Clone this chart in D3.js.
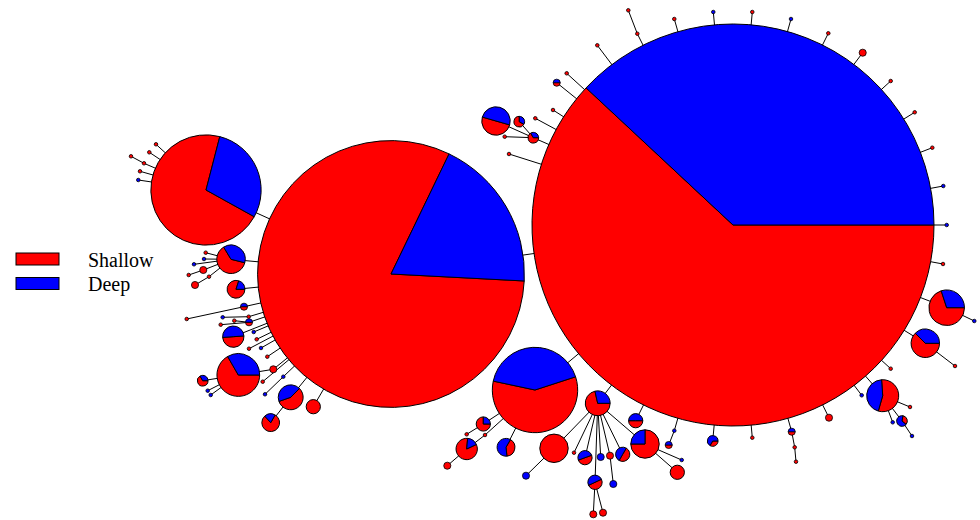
<!DOCTYPE html>
<html>
<head>
<meta charset="utf-8">
<script src="https://cdn.jsdelivr.net/npm/d3@7"></script>
<style>
  body { margin: 0; background: #fff; }
  svg { display: block; }
</style>
</head>
<body>
<div id="chart"></div>
<script>
// haplotype network: layout coordinates (network units), counts per habitat, links

// layout x / y of each haplotype (network units)
var hapX = [
  73.3, 39.1, 20.6, 53.5, 59.77,                                   // 0-4
  50.9, 53.33, 49.6, 51.93, 50.47, 53.53, 55.3, 55.67, 56.67, 59.73, // 5-14
  63.73, 62.83, 67.43, 71.33, 75.23, 79.1, 82.83, 86.27, 89.07, 91.47, // 15-24
  93.23, 94.33, 94.67,                                              // 25-27
  94.3, 94.67, 97.43, 92.53, 95.5, 89.07, 86.17, 88.27, 91.0, 89.27, // 28-37
  90.2, 91.2, 82.9, 79.17, 79.47, 79.6, 75.23, 71.27, 67.43, 66.87,  // 38-47
  63.57,                                                            // 48
  64.5, 68.17, 67.73, 57.4, 58.5, 60.07, 61.0, 61.33, 62.27, 59.5,   // 49-58
  59.33, 60.3, 55.4, 52.6,                                          // 59-62
  48.33, 46.67, 48.5, 46.67, 44.73, 50.6,                           // 63-68
  15.6, 14.93, 14.4, 13.1, 14.0, 13.83,                             // 69-74
  23.1, 20.57, 20.4, 19.4, 20.33, 18.87, 20.9, 19.5,                // 75-82
  23.6, 24.4, 18.67, 24.87, 22.27, 24.9, 23.43, 22.07,              // 83-90
  23.33, 25.37, 25.67, 26.1, 24.9, 26.73, 27.33,                    // 91-97
  23.83, 20.27, 20.77, 21.07, 26.27, 28.33, 26.5, 29.07, 27.07, 31.33 // 98-107
];
var hapY = [
  22.5, 27.4, 19.0, 39.0, 40.33,
  15.4, 13.77, 12.1, 12.17, 13.67, 11.83, 11.0, 8.27, 7.33, 4.53,
  3.37, 1.03, 1.9, 1.2, 1.2, 1.9, 3.33, 5.27, 8.1, 11.23,
  14.77, 18.6, 22.5,
  26.4, 30.77, 32.1, 34.33, 36.6, 36.87, 39.53, 39.57, 40.7, 42.23,
  42.1, 43.6, 41.77, 43.17, 44.73, 46.17, 43.77, 44.1, 43.07, 44.5,
  42.07,
  44.4, 46.0, 47.23, 45.27, 45.77, 45.7, 45.57, 48.4, 45.43, 48.23,
  51.43, 51.27, 44.83, 47.57,
  42.4, 43.43, 43.5, 44.9, 46.57, 44.73,
  14.43, 15.23, 16.33, 15.63, 17.13, 18.0,
  25.93, 25.27, 25.9, 26.43, 27.0, 27.5, 27.67, 28.5,
  28.93, 30.67, 31.9, 31.67, 31.73, 32.23, 32.07, 32.47,
  33.67, 33.2, 33.93, 34.8, 34.87, 35.67, 36.93,
  37.5, 38.07, 39.07, 39.5, 38.17, 37.67, 39.43, 39.73, 42.27, 40.67
];

// individuals per haplotype
var nShallow = [
  70, 61, 22, 14, 5,
  1, 2, 4, 2, 1, 1, 1, 1, 1, 1,
  1, 1, 1, 0, 1, 0, 1, 2, 1, 1,
  1, 0, 0,
  1, 7, 0, 5, 1, 1, 0, 5, 1, 0,
  1, 0, 2, 1, 1, 1, 1, 1, 0, 1,
  2,
  6, 0, 4, 1, 2, 0, 2, 0, 2, 2,
  2, 2, 8, 0,
  3, 1, 1, 5, 2, 2,
  1, 1, 1, 1, 1, 0,
  5, 1, 0, 0, 2, 1, 1, 2,
  4, 1, 1, 1, 0, 1, 1, 1,
  3, 0, 1, 0, 1, 1, 2,
  8, 2, 0, 0, 1, 0, 0, 4, 4, 4
];
var nDeep = [
  43, 14, 9, 10, 2,
  0, 1, 4, 1, 0, 0, 0, 1, 0, 0,
  0, 0, 0, 1, 0, 1, 0, 0, 0, 0,
  0, 1, 1,
  0, 3, 1, 3, 0, 0, 1, 4, 0, 1,
  2, 1, 0, 1, 0, 0, 0, 2, 1, 1,
  2,
  2, 1, 0, 0, 2, 2, 0, 2, 2, 2,
  0, 0, 0, 2,
  1, 0, 0, 1, 0, 3,
  0, 0, 0, 0, 0, 1,
  3, 0, 1, 1, 0, 0, 0, 0,
  1, 1, 0, 0, 1, 1, 0, 0,
  3, 1, 0, 1, 0, 0, 0,
  4, 1, 1, 1, 0, 1, 1, 3, 1, 0
];

// network links: parent haplotype of each one (-1 = root)
var linkParent = [
  -1, 0, 1, 0, 0,
  0, 0, 6, 6, 6, 0, 0, 0, 0, 0,
  0, 15, 0, 0, 0, 0, 0, 0, 0, 0,
  0, 0, 0,
  0, 0, 29, 0, 31, 0, 0, 0, 35, 35,
  35, 38, 0, 0, 41, 42, 0, 0, 0, 46,
  0,
  4, 49, 49, 4, 4, 4, 4, 55, 4, 4,
  58, 58, 4, 61,
  3, 63, 3, 65, 66, 3,
  2, 2, 2, 71, 2, 2,
  1, 75, 75, 75, 75, 79, 75, 81,
  1, 1, 84, 1, 86, 1, 88, 88,
  1, 1, 1, 1, 1, 1, 1,
  97, 98, 98, 98, 1, 1, 103, 1, 105, 1
];

// pie rotation (degrees, clockwise from 3 o'clock) where it is not 0
var turnIds = [1, 2, 3, 7, 8, 35, 38, 49, 53, 57, 58, 66, 68, 75, 91, 105, 106];
var turnDeg = [3, 29, 342, 16, 30, 266, 280, 270, 340, 300, 335, 335, 300, 14, 356, 315, 300];

var groups = ["Shallow", "Deep"];
var groupColors = ["#ff0000", "#0000ff"];

var svgWidth = 980;
var svgHeight = 520;

var svg = d3.select("#chart")
  .append("svg")
  .attr("width", svgWidth)
  .attr("height", svgHeight);

var xScale = d3.scaleLinear().domain([0, 98]).range([0, svgWidth]);
var yScale = d3.scaleLinear().domain([0, 52]).range([0, svgHeight]);
// circle diameter proportional to haplotype frequency
var rScale = d3.scaleLinear().domain([0, 113]).range([0, 201]);
var color = d3.scaleOrdinal().domain(groups).range(groupColors);

var nodes = hapX.map(function(x, i) {
  var k = turnIds.indexOf(i);
  return {
    id: i,
    x: x,
    y: hapY[i],
    counts: [nShallow[i], nDeep[i]],
    total: nShallow[i] + nDeep[i],
    parent: linkParent[i],
    turn: k >= 0 ? turnDeg[k] : 0
  };
});

var links = nodes.filter(d => d.parent >= 0)
  .map(d => ({ source: nodes[d.parent], target: d }));

//links first
svg.append("g")
  .selectAll("line")
  .data(links)
  .enter()
  .append("line")
  .attr("x1", d => xScale(d.source.x))
  .attr("y1", d => yScale(d.source.y))
  .attr("x2", d => xScale(d.target.x))
  .attr("y2", d => yScale(d.target.y))
  .attr("stroke", "black")
  .attr("stroke-width", 1);

//pies, largest first
var order = nodes.slice().sort((a, b) => b.total - a.total);

var nodeGroup = svg.append("g")
  .selectAll("g")
  .data(order)
  .enter()
  .append("g")
  .attr("transform", d => `translate(${xScale(d.x)}, ${yScale(d.y)})`);

nodeGroup.each(function(d) {
  var g = d3.select(this);
  var r = rScale(d.total);
  var sw = r < 4 ? 0.8 : 1;
  if (d.counts[0] === 0 || d.counts[1] === 0) {
    g.append("circle")
      .attr("r", r)
      .attr("fill", d.counts[0] > 0 ? color("Shallow") : color("Deep"))
      .attr("stroke", "black")
      .attr("stroke-width", sw);
    return;
  }
  var a0 = (d.turn + 90) * Math.PI / 180;
  var pie = d3.pie().sort(null).startAngle(a0).endAngle(a0 + 2 * Math.PI);
  var arc = d3.arc().innerRadius(0).outerRadius(r);
  g.selectAll("path")
    .data(pie(d.counts))
    .enter()
    .append("path")
    .attr("d", arc)
    .attr("fill", (p, i) => color(groups[i]))
    .attr("stroke", "black")
    .attr("stroke-width", sw)
    .attr("stroke-linejoin", "round");
});

//legend
var legend = svg.append("g")
  .selectAll("g")
  .data(groups)
  .enter()
  .append("g")
  .attr("transform", (d, i) => `translate(16, ${253 + i * 24.5})`);

legend.append("rect")
  .attr("width", 43)
  .attr("height", 12)
  .attr("fill", d => color(d))
  .attr("stroke", "black")
  .attr("stroke-width", 1);

legend.append("text")
  .attr("x", 72)
  .attr("y", 13.5)
  .style("font-family", "'Liberation Serif', 'Times New Roman', serif")
  .style("font-size", "20px")
  .text(d => d);
</script>
</body>
</html>
